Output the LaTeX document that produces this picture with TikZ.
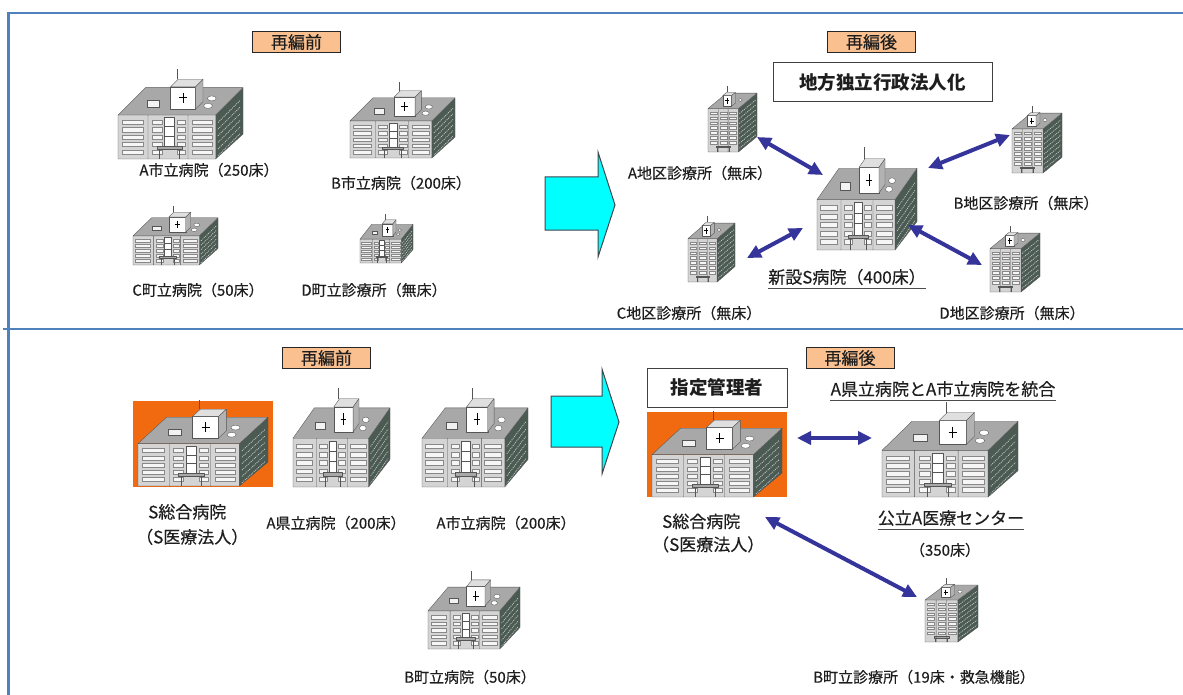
\documentclass[tikz,border=0pt]{standalone}
\usepackage{fontspec}
\setmainfont{Noto Sans CJK JP}
\newfontfamily\lblfont{Noto Sans CJK JP}[FakeBold=0.35]
\usetikzlibrary{arrows.meta}
\definecolor{framebl}{HTML}{4F81BD}
\definecolor{hdrfill}{HTML}{FAC08F}
\definecolor{orng}{HTML}{F26A10}
\definecolor{cyanf}{HTML}{00FFFF}
\definecolor{arrbl}{HTML}{34349A}
\definecolor{bfront}{HTML}{D4D4D4}
\definecolor{broof}{HTML}{A8A8A8}
\definecolor{bside}{HTML}{4B5B53}
\definecolor{bline}{HTML}{555555}
\definecolor{bwin}{HTML}{F6F6F6}
\definecolor{txt}{HTML}{1E1E1E}
\tikzset{
  sidewin/.style={white!65!bside, line width=0.8pt, dash pattern=on 1pt off 1pt},
  win/.style={fill=bwin, draw=bline!70, line width=0.2pt},
  bout/.style={draw=bline, line width=0.35pt, line join=round},
  hosp/.pic={
    \fill[bside] (0.78,0.47) -- (1,0.14) -- (1,0.70) -- (0.78,1) -- cycle;
    \foreach \v in {0.56,0.64,0.72,0.80,0.88,0.96}
      \draw[sidewin] (0.80,\v) -- (0.98,\v-0.27);
    \fill[bfront] (0,0.47) rectangle (0.78,1);
    \fill[broof] (0,0.47) -- (0.78,0.47) -- (1,0.14) -- (0.22,0.14) -- cycle;
    \foreach \v in {0.53,0.62,0.71,0.80,0.89} {
      \filldraw[win] (0.03,\v) rectangle (0.20,\v+0.05);
      \filldraw[win] (0.27,\v) rectangle (0.35,\v+0.05);
      \filldraw[win] (0.47,\v) rectangle (0.54,\v+0.05);
      \filldraw[win] (0.59,\v) rectangle (0.75,\v+0.05);
    }
    \filldraw[fill=white, bout] (0.37,0.50) rectangle (0.45,0.84);
    \draw[bline, line width=0.3pt] (0.37,0.61) -- (0.45,0.61) (0.37,0.72) -- (0.45,0.72);
    \filldraw[fill=broof, bout] (0.31,0.84) rectangle (0.51,0.88);
    \draw[bline, line width=0.7pt] (0.33,0.88) -- (0.33,1) (0.49,0.88) -- (0.49,1);
    \draw[bout] (0,0.47) rectangle (0.78,1)
      (0,0.47) -- (0.22,0.14) -- (1,0.14) -- (0.78,0.47)
      (1,0.14) -- (1,0.70) -- (0.78,1)
      (0.24,0.47) -- (0.24,1) (0.56,0.47) -- (0.56,1);
    \filldraw[fill=gray!10, bout] (0.23,0.29) rectangle (0.33,0.37);
    \filldraw[fill=white, bout] (0.75,0.27) circle [x radius=0.035, y radius=0.03];
    \filldraw[fill=white, bout] (0.72,0.36) circle [x radius=0.035, y radius=0.03];
    \filldraw[fill=white, bout] (0.42,0.13) rectangle (0.62,0.40);
    \filldraw[fill=gray!25, bout] (0.42,0.13) -- (0.62,0.13) -- (0.68,0.04) -- (0.48,0.04) -- cycle;
    \filldraw[fill=gray!60, bout] (0.62,0.13) -- (0.68,0.04) -- (0.68,0.31) -- (0.62,0.40) -- cycle;
    \draw[black, line width=1pt] (0.49,0.265) -- (0.55,0.265) (0.52,0.20) -- (0.52,0.33);
    \draw[bline, line width=0.4pt] (0.47,0.04) -- (0.47,-0.08);
  },
  clinic/.pic={
    \fill[bside] (0.62,0.30) -- (1,0.05) -- (1,0.75) -- (0.62,1) -- cycle;
    \foreach \v in {0.38,0.46,0.54,0.62,0.70,0.78,0.86,0.94}
      \draw[sidewin] (0.64,\v) -- (0.98,\v-0.224);
    \fill[bfront] (0,0.30) rectangle (0.62,1);
    \fill[broof] (0,0.30) -- (0.62,0.30) -- (1,0.05) -- (0.38,0.05) -- cycle;
    \foreach \v in {0.35,0.43,0.51,0.59,0.67,0.75,0.83} {
      \filldraw[win] (0.04,\v) rectangle (0.18,\v+0.04);
      \filldraw[win] (0.24,\v) rectangle (0.38,\v+0.04);
      \filldraw[win] (0.44,\v) rectangle (0.58,\v+0.04);
    }
    \filldraw[fill=broof, bout] (0.17,0.90) rectangle (0.45,0.93);
    \draw[bline, line width=0.7pt] (0.19,0.93) -- (0.19,1) (0.43,0.93) -- (0.43,1);
    \draw[bout] (0,0.30) rectangle (0.62,1)
      (0,0.30) -- (0.38,0.05) -- (1,0.05) -- (0.62,0.30)
      (1,0.05) -- (1,0.75) -- (0.62,1)
      (0.21,0.30) -- (0.21,1) (0.41,0.30) -- (0.41,1);
    \filldraw[fill=white, bout] (0.66,0.16) circle [x radius=0.04, y radius=0.025];
    \filldraw[fill=white, bout] (0.30,0.09) rectangle (0.48,0.26);
    \filldraw[fill=gray!25, bout] (0.30,0.09) -- (0.48,0.09) -- (0.56,0.04) -- (0.38,0.04) -- cycle;
    \filldraw[fill=gray!60, bout] (0.48,0.09) -- (0.56,0.04) -- (0.56,0.21) -- (0.48,0.26) -- cycle;
    \draw[black, line width=0.8pt] (0.35,0.175) -- (0.43,0.175) (0.39,0.13) -- (0.39,0.22);
    \draw[bline, line width=0.4pt] (0.40,0.04) -- (0.40,-0.06);
  },
  hdr/.style={draw=black!85, line width=0.9pt, fill=hdrfill, minimum width=88pt,
    minimum height=21pt, inner sep=0pt, text=txt, font=\lblfont\fontsize{17}{17}\selectfont},
  bigbox/.style={draw=black!75, line width=1pt, fill=white, inner sep=0pt, text=txt,
    font=\bfseries\fontsize{18.5}{18.5}\selectfont},
  lbl/.style={inner sep=0pt, text=txt, font=\lblfont\fontsize{15}{15}\selectfont},
  lblbig/.style={inner sep=0pt, text=txt, font=\lblfont\fontsize{17}{17}\selectfont},
  frame/.style={draw=framebl, line width=2.2pt},
  bigarrow/.style={fill=cyanf, draw=black!80!cyan, line width=1pt, line join=miter},
  dbl/.style={draw=arrbl, line width=4pt, {Triangle[length=14pt,width=13pt]}-{Triangle[length=14pt,width=13pt]}},
  uline/.style={draw=black!70, line width=0.8pt}
}
\begin{document}
\begin{tikzpicture}[x=1pt,y=-1pt]
\useasboundingbox (0,0) rectangle (1183,695);
\fill[white] (0,0) rectangle (1183,695);
% frame
\draw[frame] (8.5,695) -- (8.5,13) -- (1183,13);
\draw[frame] (3,329) -- (1183,329);

% ---------------- top panel ----------------
\node[hdr] (h1) at (296.5,42) {再編前};
\pic[xscale=125,yscale=83] at (118,76) {hosp};
\pic[xscale=105,yscale=70] at (350,88) {hosp};
\pic[xscale=85,yscale=55] at (133,210) {hosp};
\pic[xscale=53,yscale=45] at (360,218) {hosp};
\node[lbl] (lA) at (209,170) {A市立病院（250床）};
\node[lbl] (lB) at (401,183) {B市立病院（200床）};
\node[lbl] (lC) at (198,290) {C町立病院（50床）};
\node[lbl] (lD) at (374,290) {D町立診療所（無床）};

\draw[bigarrow] (545,177) -- (598,177) -- (598,152) -- (615,205) -- (598,257) -- (598,230) -- (545,230) -- cycle;

\node[hdr] (h2) at (871.5,42) {再編後};
\node[bigbox, minimum width=219pt, minimum height=39pt] (dok) at (882.5,82.5) {地方独立行政法人化};
\pic[xscale=49,yscale=62] at (708,90) {clinic};
\pic[xscale=50,yscale=63] at (1012,110) {clinic};
\pic[xscale=47,yscale=62] at (688,220) {clinic};
\pic[xscale=50,yscale=62] at (990,230) {clinic};
\pic[xscale=100,yscale=95] at (817,155) {hosp};
\node[lbl] (ka) at (700,173) {A地区診療所（無床）};
\node[lbl] (kb) at (1026,203) {B地区診療所（無床）};
\node[lbl] (kc) at (689,313) {C地区診療所（無床）};
\node[lbl] (kd) at (1012,313) {D地区診療所（無床）};
\node[lblbig] (ns) at (847,277) {新設S病院（400床）};
\draw[uline] ([yshift=-3pt]ns.south west) -- ([yshift=-3pt]ns.south east);

\coordinate (a1) at (757,137); \coordinate (a2) at (823,175);
\coordinate (b1) at (928,168); \coordinate (b2) at (1010,135);
\coordinate (c1) at (747,258); \coordinate (c2) at (803,228);
\coordinate (d1) at (908,225); \coordinate (d2) at (982,265);
\draw[dbl] (a1) -- (a2);
\draw[dbl] (b1) -- (b2);
\draw[dbl] (c1) -- (c2);
\draw[dbl] (d1) -- (d2);

% ---------------- bottom panel ----------------
\node[hdr] (h3) at (326.5,358) {再編前};
\fill[orng] (133,401) rectangle (273,487);
\pic[xscale=130,yscale=80] at (138,406) {hosp};
\pic[xscale=97,yscale=92] at (293,395) {hosp};
\pic[xscale=106,yscale=92] at (422,395) {hosp};
\pic[xscale=92,yscale=72] at (428,577) {hosp};
\node[lblbig, align=left, anchor=west] (sg1) at (136,524.5) {\hspace*{12pt}S総合病院\\[8pt]（S医療法人）};
\node[lbl] (ak) at (336,523) {A県立病院（200床）};
\node[lbl] (as) at (506,523) {A市立病院（200床）};
\node[lbl] (bm) at (470,677) {B町立病院（50床）};

\draw[bigarrow] (551,396) -- (602,396) -- (602,369) -- (619,422) -- (602,474) -- (602,447) -- (551,447) -- cycle;

\node[hdr] (h4) at (850,358) {再編後};
\node[bigbox, minimum width=140pt, minimum height=39pt] (sk) at (717,387.5) {指定管理者};
\fill[orng] (647,412) rectangle (787,497);
\pic[xscale=130,yscale=80] at (652,417) {hosp};
\node[lblbig, align=left, anchor=west] (sg2) at (652,533) {\hspace*{10pt}S総合病院\\[6pt]（S医療法人）};
\node[lblbig] (tg) at (943,389) {A県立病院とA市立病院を統合};
\draw[uline] ([yshift=-3pt]tg.south west) -- ([yshift=-3pt]tg.south east);
\pic[xscale=136,yscale=88] at (882,409) {hosp};
\node[lblbig] (ko) at (951,518) {公立A医療センター};
\draw[uline] ([yshift=-3pt]ko.south west) -- ([yshift=-3pt]ko.south east);
\node[lbl] (k350) at (945,550) {（350床）};
\pic[xscale=53,yscale=60] at (925,582) {clinic};
\node[lbl] (bs) at (924,677) {B町立診療所（19床・救急機能）};

\coordinate (e1) at (797,438); \coordinate (e2) at (872,438);
\coordinate (f1) at (765,517); \coordinate (f2) at (917,597);
\draw[dbl] (e1) -- (e2);
\draw[dbl] (f1) -- (f2);
\end{tikzpicture}
\end{document}
